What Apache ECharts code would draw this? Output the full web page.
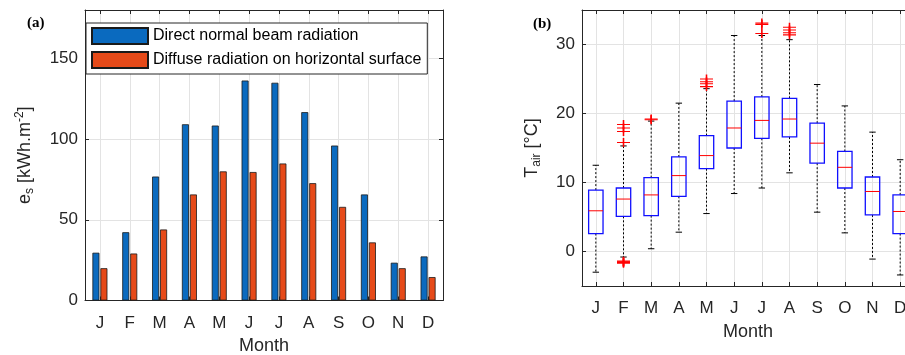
<!DOCTYPE html>
<html>
<head>
<meta charset="utf-8">
<script src="https://cdn.jsdelivr.net/npm/echarts@6/dist/echarts.min.js"></script>
<style>html,body{margin:0;padding:0;background:#fff}#c{width:905px;height:355px}</style>
</head>
<body>
<div id="c"></div>
<script>
const months = ['J','F','M','A','M','J','J','A','S','O','N','D'];
const directBeam = [29.6, 42.3, 76.8, 109.2, 108.4, 136.3, 134.9, 116.7, 96.0, 65.7, 23.4, 27.3];
const diffuseRad = [20.0, 29.1, 44.0, 65.7, 80.0, 79.6, 84.9, 72.7, 58.0, 36.0, 20.0, 14.5];
// [whiskerLow, q1, median, q3, whiskerHigh]
const tairBoxes = [
  [-3.0, 2.6, 5.9, 8.9, 12.5],
  [-0.8, 5.1, 7.6, 9.2, 15.3],
  [0.4, 5.2, 8.2, 10.7, 18.9],
  [2.8, 8.0, 11.0, 13.7, 21.5],
  [5.5, 12.0, 13.9, 16.8, 23.6],
  [8.4, 15.0, 17.9, 21.8, 31.3],
  [9.2, 16.4, 19.0, 22.4, 31.3],
  [11.4, 16.6, 19.2, 22.2, 30.7],
  [5.7, 12.8, 15.7, 18.6, 24.2],
  [2.7, 9.2, 12.2, 14.5, 21.1],
  [-1.1, 5.3, 8.7, 10.8, 17.3],
  [-3.4, 2.6, 5.8, 8.2, 13.3]
];
// [monthIndex, value]
const tairOutliers = [
  [1, 18.4], [1, 17.9], [1, 17.4], [1, 15.8],
  [1, -1.4], [1, -1.5], [1, -1.6], [1, -1.7],
  [2, 19.2], [2, 19.1],
  [4, 25.0], [4, 24.6], [4, 24.3], [4, 23.9],
  [6, 33.1], [6, 32.9], [6, 31.6],
  [7, 32.5], [7, 32.1], [7, 31.7], [7, 31.4]
];

const AX = '#262626';
const GRIDC = '#e3e3e3';
const FONT = 'Liberation Sans';

const chart = echarts.init(document.getElementById('c'), null, {renderer: 'canvas'});

function catAxis(grid, pos, showLabels, name, nameGap) {
  return {
    type: 'category', gridIndex: grid, position: pos, data: months,
    boundaryGap: true,
    axisLine: {show: true, onZero: false, lineStyle: {color: AX, width: 1}},
    axisTick: {show: true, inside: true, alignWithLabel: true, length: 4, lineStyle: {color: AX}},
    axisLabel: {show: showLabels, color: AX, fontSize: 17, fontFamily: FONT, margin: 14},
    splitLine: {show: showLabels, alignWithLabel: true, lineStyle: {color: GRIDC, width: 1}},
    name: name, nameLocation: 'middle', nameGap: nameGap,
    nameTextStyle: {color: AX, fontSize: 18, fontFamily: FONT}
  };
}
function valAxis(grid, pos, min, max, main, name, nameGap, rich) {
  return {
    type: 'value', gridIndex: grid, position: pos, min: min, max: max, splitNumber: 4,
    axisLine: {show: true, onZero: false, lineStyle: {color: AX, width: 1}},
    axisTick: {show: true, inside: true, length: 4, lineStyle: {color: AX}},
    axisLabel: {show: main, color: AX, fontSize: 17, fontFamily: FONT, margin: 7,
      showMinLabel: min === 0, showMaxLabel: false},
    splitLine: {show: main, lineStyle: {color: GRIDC, width: 1}},
    name: main ? name : '', nameLocation: 'middle', nameGap: nameGap, nameRotate: 90,
    nameTextStyle: {rich: rich}
  };
}
const richName = {
  m: {fontSize: 18, fontFamily: FONT, color: AX, lineHeight: 22},
  sub: {fontSize: 12, fontFamily: FONT, color: AX, lineHeight: 12, verticalAlign: 'bottom'},
  sup: {fontSize: 12, fontFamily: FONT, color: AX, lineHeight: 12, verticalAlign: 'top'}
};

function renderBox(params, api) {
  const x = api.value(0);
  const lo = api.coord([x, api.value(1)]);
  const q1 = api.coord([x, api.value(2)]);
  const med = api.coord([x, api.value(3)]);
  const q3 = api.coord([x, api.value(4)]);
  const hi = api.coord([x, api.value(5)]);
  const cx = lo[0];
  const hw = 7.2, cw = 3.2;
  const dash = {stroke: '#000', lineWidth: 1, lineDash: [2, 2]};
  const solid = {stroke: '#000', lineWidth: 1};
  return {
    type: 'group',
    children: [
      {type: 'line', shape: {x1: cx, y1: q3[1], x2: cx, y2: hi[1]}, style: dash},
      {type: 'line', shape: {x1: cx, y1: q1[1], x2: cx, y2: lo[1]}, style: dash},
      {type: 'line', shape: {x1: cx - cw, y1: hi[1], x2: cx + cw, y2: hi[1]}, style: solid},
      {type: 'line', shape: {x1: cx - cw, y1: lo[1], x2: cx + cw, y2: lo[1]}, style: solid},
      {type: 'rect', shape: {x: cx - hw, y: q3[1], width: 2 * hw, height: q1[1] - q3[1]},
        style: {fill: 'none', stroke: '#1010ff', lineWidth: 1.3}},
      {type: 'line', shape: {x1: cx - hw, y1: med[1], x2: cx + hw, y2: med[1]},
        style: {stroke: '#ff0000', lineWidth: 1}}
    ]
  };
}

const option = {
  animation: false,
  backgroundColor: '#ffffff',
  textStyle: {fontFamily: FONT},
  grid: [
    {left: 85, top: 10, width: 358, height: 290.5, outerBoundsMode: 'none', containLabel: false},
    {left: 582, top: 10, width: 332, height: 276, outerBoundsMode: 'none', containLabel: false}
  ],
  xAxis: [
    catAxis(0, 'bottom', true, 'Month', 37),
    catAxis(0, 'top', false, '', 0),
    catAxis(1, 'bottom', true, 'Month', 37),
    catAxis(1, 'top', false, '', 0)
  ],
  yAxis: [
    valAxis(0, 'left', 0, 180, true, '{m|e}{sub|s}{m| [kWh.m}{sup|-2}{m|]}', 49, richName),
    valAxis(0, 'right', 0, 180, false, '', 0, richName),
    valAxis(1, 'left', -5, 35, true, '{m|T}{sub|air}{m| [°C]}', 39, richName),
    valAxis(1, 'right', -5, 35, false, '', 0, richName)
  ],
  legend: {
    left: 86, top: 23, orient: 'vertical',
    itemWidth: 56, itemHeight: 16, itemGap: 6,
    padding: [4, 6, 5, 5],
    borderColor: AX, borderWidth: 1, backgroundColor: '#fff',
    icon: 'rect',
    textStyle: {fontSize: 16, color: '#000', fontFamily: FONT},
    data: ['Direct normal beam radiation', 'Diffuse radiation on horizontal surface']
  },
  series: [
    {
      name: 'Direct normal beam radiation', type: 'bar', xAxisIndex: 0, yAxisIndex: 0,
      data: directBeam, barWidth: 7, barGap: '14%',
      itemStyle: {color: '#0a6abf', borderColor: '#1a1a1a', borderWidth: 0.8}
    },
    {
      name: 'Diffuse radiation on horizontal surface', type: 'bar', xAxisIndex: 0, yAxisIndex: 0,
      data: diffuseRad, barWidth: 7, barGap: '14%',
      itemStyle: {color: '#e64a19', borderColor: '#1a1a1a', borderWidth: 0.8}
    },
    {
      type: 'custom', xAxisIndex: 2, yAxisIndex: 2,
      renderItem: renderBox,
      encode: {x: 0, y: [1, 2, 3, 4, 5]},
      data: tairBoxes.map((b, i) => [i].concat(b)),
      z: 3
    },
    {
      type: 'scatter', xAxisIndex: 2, yAxisIndex: 2,
      data: tairOutliers,
      symbol: 'path://M0,5L10,5M5,0L5,10',
      symbolSize: [13, 9],
      itemStyle: {color: 'rgba(0,0,0,0)', borderColor: '#ff0000', borderWidth: 1.3, opacity: 1},
      z: 4
    }
  ],
  graphic: [
    {type: 'text', left: 27, top: 16, style: {text: '(a)', font: 'bold 15px "Liberation Serif"', fill: '#000'}},
    {type: 'text', left: 533, top: 17, style: {text: '(b)', font: 'bold 15px "Liberation Serif"', fill: '#000'}}
  ]
};
chart.setOption(option);
</script>
</body>
</html>
